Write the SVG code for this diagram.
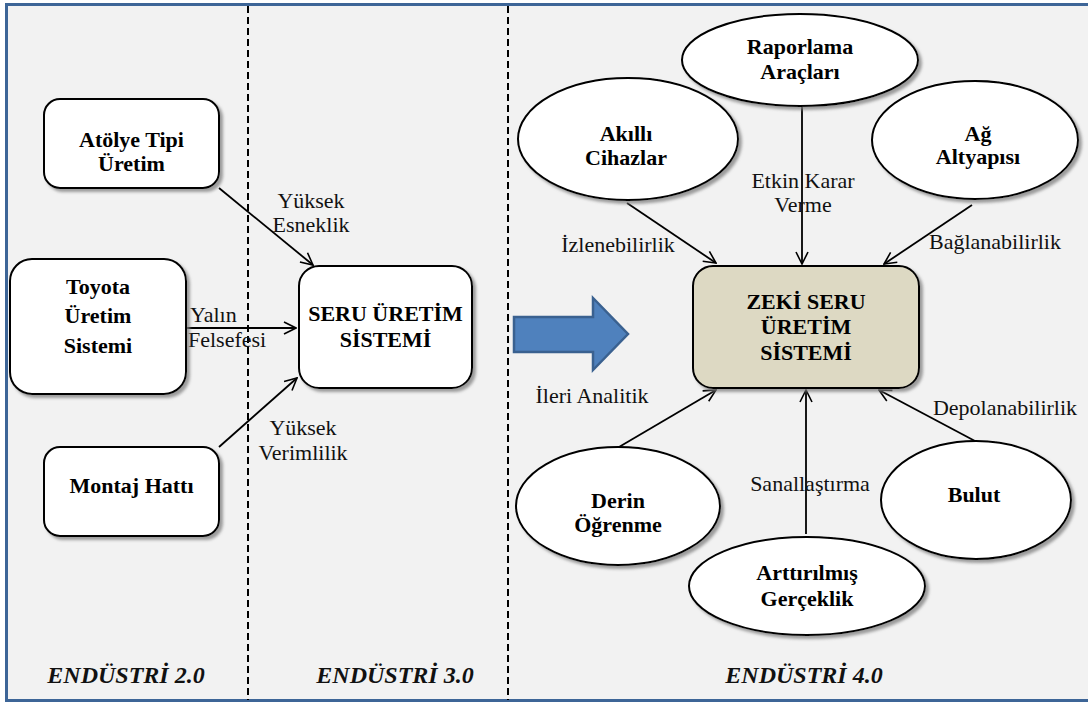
<svg xmlns="http://www.w3.org/2000/svg" width="1088" height="704" viewBox="0 0 1088 704">
  <defs>
    <filter id="shadow" x="-10%" y="-10%" width="125%" height="130%">
      <feDropShadow dx="3" dy="3" stdDeviation="1.6" flood-color="#7f7f7f" flood-opacity="0.75"/>
    </filter>
    <marker id="open" viewBox="0 0 14 14" refX="13" refY="7" markerWidth="14" markerHeight="14" markerUnits="userSpaceOnUse" orient="auto">
      <path d="M1,1 L13,7 L1,13" fill="none" stroke="#000" stroke-width="1.6"/>
    </marker>
    <style>
      .box { fill: #fff; stroke: #000; stroke-width: 2; }
      .oval { fill: #fff; stroke: #000; stroke-width: 2; }
      .node { font-weight: bold; font-size: 22px; fill: #000; text-anchor: middle; }
      .lbl { font-size: 22px; fill: #111; text-anchor: middle; }
      .era { font-weight: bold; font-style: italic; font-size: 24px; fill: #111; text-anchor: middle; }
      .edge { fill: none; stroke: #000; stroke-width: 1.8; marker-end: url(#open); }
      .divider { stroke: #000; stroke-width: 2; stroke-dasharray: 7 4; }
    </style>
  </defs>

  <!-- frame and background -->
  <rect x="0" y="0" width="1088" height="704" fill="#ffffff"/>
  <rect x="6.5" y="4.5" width="1090" height="696" fill="#f2f2f2" stroke="#3d6597" stroke-width="3"/>

  <!-- era dividers -->
  <g id="dividers">
    <line class="divider" x1="248" y1="6" x2="248" y2="700"/>
    <line class="divider" x1="508" y1="6" x2="508" y2="700"/>
  </g>

  <!-- connectors -->
  <g id="connectors">
    <line class="edge" x1="219" y1="188" x2="313" y2="265"/>
    <line class="edge" x1="186" y1="328" x2="296" y2="328"/>
    <line class="edge" x1="219" y1="447" x2="297" y2="378"/>

    <line class="edge" x1="627" y1="203" x2="716" y2="263"/>
    <line class="edge" x1="802" y1="106" x2="802" y2="264"/>
    <line class="edge" x1="972" y1="205" x2="884" y2="264"/>

    <line class="edge" x1="619" y1="447" x2="716" y2="390"/>
    <line class="edge" x1="806" y1="534" x2="806" y2="390"/>
    <line class="edge" x1="975" y1="441" x2="879" y2="390"/>
  </g>

  <g font-family="'Liberation Serif', 'DejaVu Serif', 'Times New Roman', serif">
    <!-- connector labels -->
    <g id="labels">
      <text class="lbl" x="311" y="208">Yüksek</text>
      <text class="lbl" x="311" y="232">Esneklik</text>
      <text class="lbl" x="190" y="322" style="text-anchor:start">Yalın</text>
      <text class="lbl" x="188" y="347" style="text-anchor:start">Felsefesi</text>
      <text class="lbl" x="303" y="435">Yüksek</text>
      <text class="lbl" x="303" y="460">Verimlilik</text>

      <text class="lbl" x="618" y="252">İzlenebilirlik</text>
      <text class="lbl" x="803" y="188">Etkin Karar</text>
      <text class="lbl" x="803" y="212">Verme</text>
      <text class="lbl" x="995" y="249">Bağlanabilirlik</text>
      <text class="lbl" x="592" y="403">İleri Analitik</text>
      <text class="lbl" x="1005" y="415">Depolanabilirlik</text>
      <text class="lbl" x="810" y="491">Sanallaştırma</text>
    </g>

    <!-- Industry 2.0 sources -->
    <g id="atolye">
      <rect class="box" x="44" y="99" width="175" height="89" rx="16" filter="url(#shadow)"/>
      <text class="node" x="131.5" y="147">Atölye Tipi</text>
      <text class="node" x="131.5" y="171">Üretim</text>
    </g>
    <g id="toyota">
      <rect class="box" x="10" y="259" width="176" height="135" rx="22" filter="url(#shadow)"/>
      <text class="node" x="98" y="294">Toyota</text>
      <text class="node" x="98" y="323">Üretim</text>
      <text class="node" x="98" y="353">Sistemi</text>
    </g>
    <g id="montaj">
      <rect class="box" x="44" y="447" width="175" height="89" rx="16" filter="url(#shadow)"/>
      <text class="node" x="131.5" y="493">Montaj Hattı</text>
    </g>

    <!-- Industry 3.0 -->
    <g id="seru">
      <rect class="box" x="299" y="266" width="173" height="122" rx="20" filter="url(#shadow)"/>
      <text class="node" x="385.5" y="321">SERU ÜRETİM</text>
      <text class="node" x="385.5" y="347">SİSTEMİ</text>
    </g>

    <!-- transition arrow -->
    <g id="transition">
      <path d="M514,317 L593,317 L593,298 L628,334 L593,370 L593,352 L514,352 Z" fill="#4f81bd" stroke="#3a6190" stroke-width="2.5"/>
    </g>

    <!-- Industry 4.0 hub -->
    <g id="zeki">
      <rect x="693" y="266" width="226" height="122" rx="20" fill="#ddd9c3" stroke="#000" stroke-width="2" filter="url(#shadow)"/>
      <text class="node" x="806" y="309">ZEKİ SERU</text>
      <text class="node" x="806" y="334">ÜRETİM</text>
      <text class="node" x="806" y="360">SİSTEMİ</text>
    </g>

    <!-- technology nodes -->
    <g id="raporlama">
      <ellipse class="oval" cx="800" cy="60" rx="118" ry="46" filter="url(#shadow)"/>
      <text class="node" x="800" y="54">Raporlama</text>
      <text class="node" x="800" y="79">Araçları</text>
    </g>
    <g id="akilli">
      <ellipse class="oval" cx="628" cy="139" rx="110" ry="61" filter="url(#shadow)"/>
      <text class="node" x="626" y="141">Akıllı</text>
      <text class="node" x="626" y="165">Cihazlar</text>
    </g>
    <g id="ag">
      <ellipse class="oval" cx="975" cy="140" rx="103" ry="59" filter="url(#shadow)"/>
      <text class="node" x="978" y="141">Ağ</text>
      <text class="node" x="978" y="164">Altyapısı</text>
    </g>
    <g id="derin">
      <ellipse class="oval" cx="618" cy="506" rx="102" ry="59" filter="url(#shadow)"/>
      <text class="node" x="618" y="508">Derin</text>
      <text class="node" x="618" y="532">Öğrenme</text>
    </g>
    <g id="arttirilmis">
      <ellipse class="oval" cx="807" cy="586" rx="118" ry="49" filter="url(#shadow)"/>
      <text class="node" x="807" y="580">Arttırılmış</text>
      <text class="node" x="807" y="606">Gerçeklik</text>
    </g>
    <g id="bulut">
      <ellipse class="oval" cx="976" cy="500" rx="95" ry="59" filter="url(#shadow)"/>
      <text class="node" x="974" y="502">Bulut</text>
    </g>

    <!-- era captions -->
    <g id="eras">
      <text class="era" x="126" y="683">ENDÜSTRİ 2.0</text>
      <text class="era" x="395" y="683">ENDÜSTRİ 3.0</text>
      <text class="era" x="804" y="683">ENDÜSTRİ 4.0</text>
    </g>
  </g>
</svg>
